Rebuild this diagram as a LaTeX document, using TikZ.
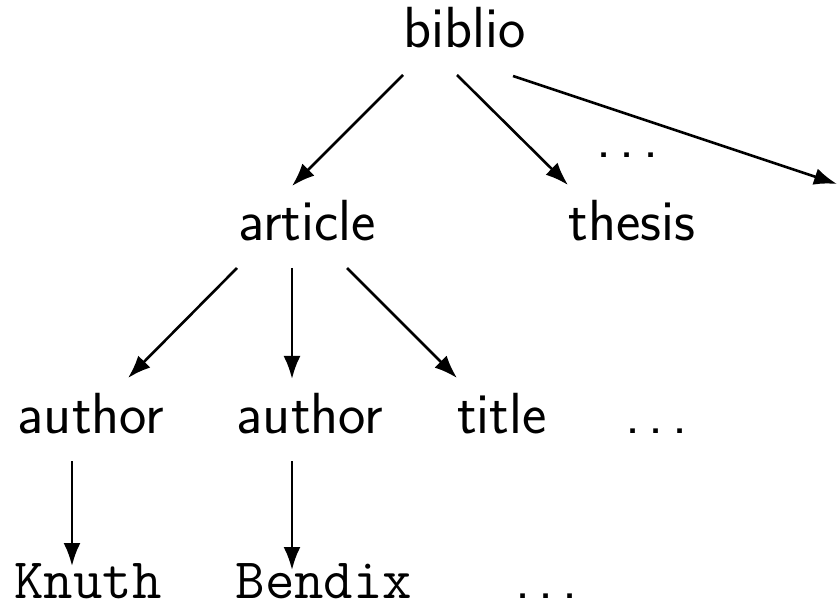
\documentclass[tikz,border=0pt]{standalone}
\usetikzlibrary{arrows.meta}
\newcommand\mydots{.\hspace{0.15em}.\hspace{0.15em}.}
\begin{document}
\begin{tikzpicture}[x=0.5pt,y=-0.5pt,
  lbl/.style={inner sep=0pt,outer sep=0pt,anchor=base,font=\sffamily\fontsize{29}{34}\selectfont},
  code/.style={lbl,font=\ttfamily\fontsize{28.6}{34}\selectfont},
  dts/.style={lbl,anchor=base west},
  arr/.style={line width=1.3pt,-{Latex[length=11.5pt,width=8.5pt]}}]
\useasboundingbox (0,0) rectangle (837,610);
\node[lbl] (biblio) at (465,48) {biblio};
\node[lbl] (article) at (307,241) {article};
\node[lbl] (thesis) at (632,241) {thesis};
\node[dts] (dotsA) at (596,158) {\mydots};
\coordinate (offright) at (837,184);
\node[lbl] (authorA) at (91,433) {author};
\node[lbl] (authorB) at (310,433) {author};
\node[lbl] (title) at (502,433) {title};
\node[dts] (dotsB) at (625,433) {\mydots};
\node[code] (knuth) at (88,598) {Knuth};
\node[code] (bendix) at (324,598) {Bendix};
\node[dts] (dotsC) at (515,598) {\mydots};
\draw[arr] ([shift={(-62,27)}]biblio.base) -- ([shift={(-15,-55)}]article.base);
\draw[arr] ([shift={(-8,27)}]biblio.base) -- ([shift={(-64,-56)}]thesis.base);
\draw[arr] ([shift={(48,28)}]biblio.base) -- (offright);
\draw[arr] ([shift={(-70,27)}]article.base) -- ([shift={(37,-55)}]authorA.base);
\draw[arr] ([shift={(-15,27)}]article.base) -- ([shift={(-18,-54)}]authorB.base);
\draw[arr] ([shift={(40,27)}]article.base) -- ([shift={(-45,-55)}]title.base);
\draw[arr] ([shift={(-19,28)}]authorA.base) -- ([shift={(-16,-32)}]knuth.base);
\draw[arr] ([shift={(-18,28)}]authorB.base) -- ([shift={(-32,-28)}]bendix.base);
\end{tikzpicture}
\end{document}
